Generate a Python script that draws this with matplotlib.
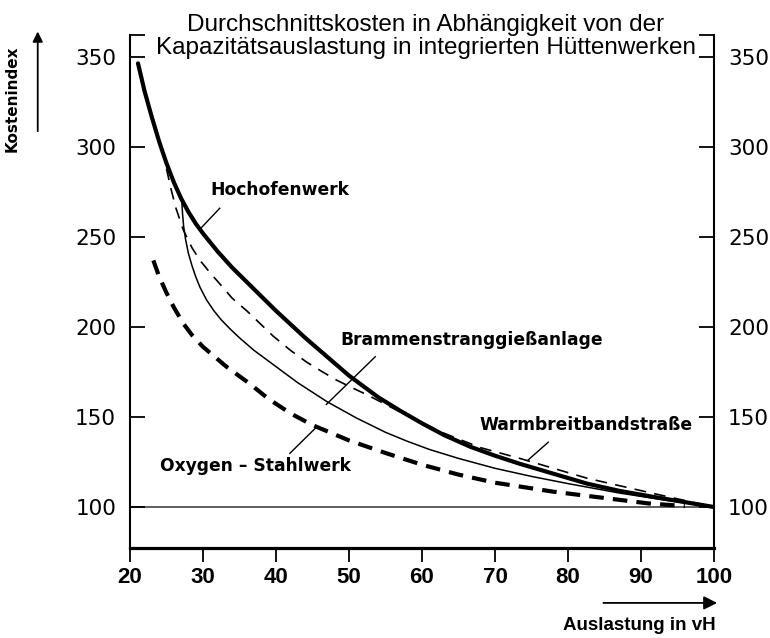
import matplotlib
matplotlib.use("Agg")
import matplotlib.pyplot as plt
from matplotlib import font_manager
from matplotlib.patches import FancyArrowPatch

# narrow family for title / x ticks if present
names = {f.name for f in font_manager.fontManager.ttflist}
NARROW = "Liberation Sans Narrow" if "Liberation Sans Narrow" in names else "Liberation Sans"
LABEL = "DejaVu Sans"

# data (Auslastung in vH -> Kostenindex)
hochofen_x = [21.1, 22, 23, 24, 25, 26, 27, 28, 29, 30, 32, 34, 36, 38, 40, 42, 44, 46, 48, 50, 52, 54,
              57, 60, 63, 66.6, 70, 73.4, 78, 82.6, 87, 91.6, 100]
hochofen_y = [346.5, 331, 316.5, 303, 291, 280.5, 271.5, 264, 257.5, 252, 242, 233, 225, 217, 209, 201.5,
              194, 187, 180, 173, 167, 161, 153.5, 146.5, 140, 133.5, 128.5, 124, 118.5, 113, 109, 105.7, 100]

warmband_x = [25, 25.6, 26.3, 27.3, 28.5, 29.6, 31, 32.3, 34, 36, 39.6, 42, 44.2, 46.2, 48.3, 50.3, 52.4,
              57.4, 63, 68, 73.4, 82.6, 91.6, 100]
warmband_y = [288, 277, 266, 254, 244, 237, 230, 224, 216, 209, 195, 187, 180.5, 175.5, 170.5, 166.5, 162.5,
              152, 141, 133, 127, 116, 107.6, 100]

brammen_x = [27.1, 27.2, 27.35, 27.6, 28, 28.5, 29, 29.6, 30.5, 31.5, 32.5, 33.7, 35, 37, 40, 43, 47, 51,
             55, 58, 61, 65, 70, 75, 80, 87, 93, 100]
brammen_y = [270, 263, 256, 249, 241, 234, 228, 222, 215, 209, 204, 199, 194, 187, 178, 169, 158.5, 149.5,
             141.5, 136.5, 132, 127, 121.5, 117, 113, 107.8, 104, 100]

oxygen_x = [23.2, 24, 25, 26, 27.3, 28.5, 30, 33.2, 36.4, 39, 42, 45, 50, 55, 60, 65, 70, 78, 87, 91, 96]
oxygen_y = [237, 228, 219, 211, 202, 195.5, 189, 178, 168.5, 160, 152, 145.5, 137, 130, 123.5, 118,
            113.5, 108.5, 104, 102, 100.5]

x_ticks = [20, 30, 40, 50, 60, 70, 80, 90, 100]
y_ticks = [100, 150, 200, 250, 300, 350]

title = "Durchschnittskosten in Abhängigkeit von der\nKapazitätsauslastung in integrierten Hüttenwerken"

fig = plt.figure(figsize=(7.7, 6.38), dpi=100)
ax = fig.add_axes([0.1688, 0.141, 0.7585, 0.804])
ax.set_xlim(20, 100)
ax.set_ylim(77.2, 362.2)

ax.axhline(100, color="#333333", lw=1.1, zorder=1)

ax.plot(hochofen_x, hochofen_y, color="black", lw=3.0, solid_capstyle="round", solid_joinstyle="round")
ax.plot(warmband_x, warmband_y, color="black", lw=1.2, dashes=(7, 5))
ax.plot(brammen_x, brammen_y, color="black", lw=1.1, solid_joinstyle="round")
ax.plot(oxygen_x, oxygen_y, color="black", lw=3.0, dashes=(3.5, 2.2))

# curve labels with leader lines
lab = dict(fontsize=12.3, fontweight="bold", family=LABEL, color="black")
ax.text(31, 276, "Hochofenwerk", va="center", ha="left", **lab)
ax.plot([29.5, 32.3], [254, 266], color="black", lw=1)
ax.text(48.8, 193, "Brammenstranggießanlage", va="center", ha="left", **lab)
ax.plot([46.9, 53.6], [157, 183.5], color="black", lw=1)
ax.text(67.9, 145.5, "Warmbreitbandstraße", va="center", ha="left", **lab)
ax.plot([74.5, 77.3], [126, 136], color="black", lw=1)
ax.text(24.1, 122.8, "Oxygen – Stahlwerk", va="center", ha="left", **lab)
ax.plot([41.9, 45.6], [129.8, 144.6], color="black", lw=1)

# spines
ax.spines["top"].set_visible(False)
for s in ["left", "right"]:
    ax.spines[s].set_linewidth(1.5)
ax.spines["bottom"].set_linewidth(2.3)

ax.set_xticks(x_ticks)
ax.set_xticklabels([str(v) for v in x_ticks], family=NARROW, fontweight="bold", fontsize=16)
ax.tick_params(axis="x", direction="out", length=10, width=1.3, pad=4)

ax.set_yticks(y_ticks + [362.2])
ax.set_yticklabels([str(v) for v in y_ticks] + [""], fontsize=15.5, family=LABEL)
ax.tick_params(axis="y", direction="in", length=11, width=1.3, pad=10,
               left=True, right=True, labelleft=True, labelright=True)

# title sits on top of the frame
fig.text(0.553, 0.978, title, ha="center", va="top", family=NARROW,
         fontsize=17.5, linespacing=1.05)

# axis names with arrows
fig.text(0.016, 0.845, "Kostenindex", rotation=90, ha="center", va="center",
         fontweight="bold", family=LABEL, fontsize=11)
fig.add_artist(FancyArrowPatch(
    (0.049, 0.79), (0.049, 0.955), transform=fig.transFigure,
    arrowstyle="-|>,head_length=6,head_width=3", color="black", lw=1.3))
fig.text(0.929, 0.02, "Auslastung in vH", ha="right", va="center",
         fontweight="bold", family=NARROW, fontsize=13.5)
fig.add_artist(FancyArrowPatch(
    (0.78, 0.055), (0.935, 0.055), transform=fig.transFigure,
    arrowstyle="-|>,head_length=8,head_width=4", color="black", lw=1.3))

fig.savefig("out.png", dpi=100)
